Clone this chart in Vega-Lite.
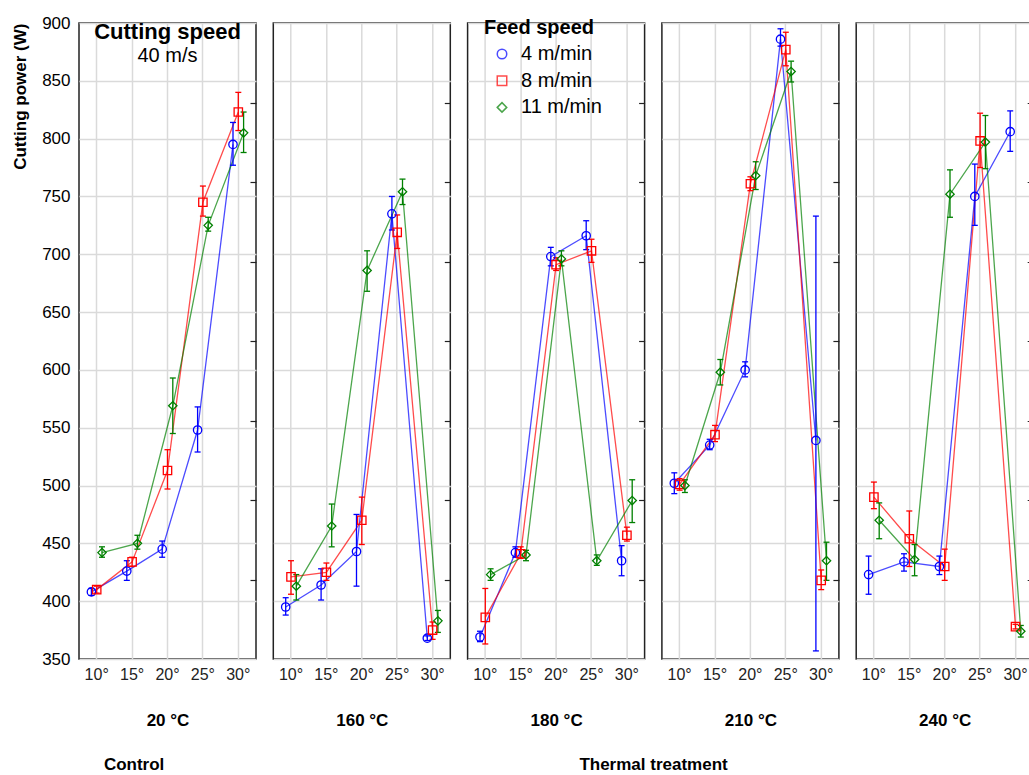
{
  "$schema": "https://vega.github.io/schema/vega-lite/v6.json",
  "padding": {"left": 10, "top": 13, "right": 0, "bottom": 0},
  "config": {
    "font": "Liberation Sans",
    "view": {"stroke": "#222", "strokeWidth": 1.5},
    "legend": {
      "orient": "none", "legendX": 405, "legendY": -5, "padding": 0,
      "titleFontSize": 20, "titleFontWeight": "bold", "titleColor": "#000", "titlePadding": 6,
      "labelFontSize": 20, "labelColor": "#000", "labelOffset": 9,
      "symbolOffset": 8, "symbolSize": 90, "symbolStrokeWidth": 1.5, "rowPadding": 6.7
    }
  },
  "datasets": {
    "d": [
      {"t":"20 °C","a":"10°","s":"4 m/min","v":408,"lo":405,"hi":411},
      {"t":"20 °C","a":"15°","s":"4 m/min","v":426,"lo":418,"hi":435},
      {"t":"20 °C","a":"20°","s":"4 m/min","v":445,"lo":438,"hi":452},
      {"t":"20 °C","a":"25°","s":"4 m/min","v":548,"lo":529,"hi":568},
      {"t":"20 °C","a":"30°","s":"4 m/min","v":795,"lo":777,"hi":814},
      {"t":"20 °C","a":"10°","s":"8 m/min","v":410,"lo":407,"hi":413},
      {"t":"20 °C","a":"15°","s":"8 m/min","v":434,"lo":430,"hi":438},
      {"t":"20 °C","a":"20°","s":"8 m/min","v":513,"lo":497,"hi":531},
      {"t":"20 °C","a":"25°","s":"8 m/min","v":745,"lo":733,"hi":759},
      {"t":"20 °C","a":"30°","s":"8 m/min","v":823,"lo":807,"hi":840},
      {"t":"20 °C","a":"10°","s":"11 m/min","v":442,"lo":438,"hi":447},
      {"t":"20 °C","a":"15°","s":"11 m/min","v":450,"lo":445,"hi":457},
      {"t":"20 °C","a":"20°","s":"11 m/min","v":569,"lo":545,"hi":593},
      {"t":"20 °C","a":"25°","s":"11 m/min","v":725,"lo":720,"hi":732},
      {"t":"20 °C","a":"30°","s":"11 m/min","v":805,"lo":788,"hi":823},

      {"t":"160 °C","a":"10°","s":"4 m/min","v":395,"lo":388,"hi":403},
      {"t":"160 °C","a":"15°","s":"4 m/min","v":414,"lo":401,"hi":428},
      {"t":"160 °C","a":"20°","s":"4 m/min","v":443,"lo":413,"hi":475},
      {"t":"160 °C","a":"25°","s":"4 m/min","v":735,"lo":721,"hi":750},
      {"t":"160 °C","a":"30°","s":"4 m/min","v":368,"lo":366,"hi":370},
      {"t":"160 °C","a":"10°","s":"8 m/min","v":421,"lo":406,"hi":435},
      {"t":"160 °C","a":"15°","s":"8 m/min","v":425,"lo":418,"hi":433},
      {"t":"160 °C","a":"20°","s":"8 m/min","v":470,"lo":449,"hi":490},
      {"t":"160 °C","a":"25°","s":"8 m/min","v":719,"lo":705,"hi":734},
      {"t":"160 °C","a":"30°","s":"8 m/min","v":375,"lo":367,"hi":382},
      {"t":"160 °C","a":"10°","s":"11 m/min","v":413,"lo":401,"hi":423},
      {"t":"160 °C","a":"15°","s":"11 m/min","v":465,"lo":447,"hi":484},
      {"t":"160 °C","a":"20°","s":"11 m/min","v":686,"lo":668,"hi":703},
      {"t":"160 °C","a":"25°","s":"11 m/min","v":754,"lo":743,"hi":765},
      {"t":"160 °C","a":"30°","s":"11 m/min","v":383,"lo":373,"hi":392},

      {"t":"180 °C","a":"10°","s":"4 m/min","v":369,"lo":365,"hi":374},
      {"t":"180 °C","a":"15°","s":"4 m/min","v":442,"lo":438,"hi":447},
      {"t":"180 °C","a":"20°","s":"4 m/min","v":698,"lo":690,"hi":706},
      {"t":"180 °C","a":"25°","s":"4 m/min","v":716,"lo":704,"hi":729},
      {"t":"180 °C","a":"30°","s":"4 m/min","v":435,"lo":422,"hi":448},
      {"t":"180 °C","a":"10°","s":"8 m/min","v":386,"lo":363,"hi":411},
      {"t":"180 °C","a":"15°","s":"8 m/min","v":441,"lo":437,"hi":447},
      {"t":"180 °C","a":"20°","s":"8 m/min","v":691,"lo":686,"hi":697},
      {"t":"180 °C","a":"25°","s":"8 m/min","v":703,"lo":693,"hi":713},
      {"t":"180 °C","a":"30°","s":"8 m/min","v":457,"lo":452,"hi":464},
      {"t":"180 °C","a":"10°","s":"11 m/min","v":423,"lo":418,"hi":428},
      {"t":"180 °C","a":"15°","s":"11 m/min","v":440,"lo":435,"hi":444},
      {"t":"180 °C","a":"20°","s":"11 m/min","v":696,"lo":690,"hi":703},
      {"t":"180 °C","a":"25°","s":"11 m/min","v":435,"lo":431,"hi":440},
      {"t":"180 °C","a":"30°","s":"11 m/min","v":487,"lo":468,"hi":505},

      {"t":"210 °C","a":"10°","s":"4 m/min","v":502,"lo":493,"hi":511},
      {"t":"210 °C","a":"15°","s":"4 m/min","v":535,"lo":531,"hi":540},
      {"t":"210 °C","a":"20°","s":"4 m/min","v":600,"lo":594,"hi":607},
      {"t":"210 °C","a":"25°","s":"4 m/min","v":886,"lo":880,"hi":895},
      {"t":"210 °C","a":"30°","s":"4 m/min","v":539,"lo":357,"hi":733},
      {"t":"210 °C","a":"10°","s":"8 m/min","v":501,"lo":496,"hi":506},
      {"t":"210 °C","a":"15°","s":"8 m/min","v":544,"lo":538,"hi":552},
      {"t":"210 °C","a":"20°","s":"8 m/min","v":761,"lo":755,"hi":767},
      {"t":"210 °C","a":"25°","s":"8 m/min","v":877,"lo":863,"hi":892},
      {"t":"210 °C","a":"30°","s":"8 m/min","v":418,"lo":410,"hi":427},
      {"t":"210 °C","a":"10°","s":"11 m/min","v":500,"lo":494,"hi":505},
      {"t":"210 °C","a":"15°","s":"11 m/min","v":598,"lo":587,"hi":609},
      {"t":"210 °C","a":"20°","s":"11 m/min","v":768,"lo":756,"hi":780},
      {"t":"210 °C","a":"25°","s":"11 m/min","v":858,"lo":849,"hi":867},
      {"t":"210 °C","a":"30°","s":"11 m/min","v":435,"lo":418,"hi":451},

      {"t":"240 °C","a":"10°","s":"4 m/min","v":423,"lo":406,"hi":439},
      {"t":"240 °C","a":"15°","s":"4 m/min","v":434,"lo":426,"hi":441},
      {"t":"240 °C","a":"20°","s":"4 m/min","v":430,"lo":423,"hi":439},
      {"t":"240 °C","a":"25°","s":"4 m/min","v":750,"lo":725,"hi":778},
      {"t":"240 °C","a":"30°","s":"4 m/min","v":806,"lo":789,"hi":824},
      {"t":"240 °C","a":"10°","s":"8 m/min","v":490,"lo":480,"hi":503},
      {"t":"240 °C","a":"15°","s":"8 m/min","v":454,"lo":430,"hi":478},
      {"t":"240 °C","a":"20°","s":"8 m/min","v":430,"lo":418,"hi":445},
      {"t":"240 °C","a":"25°","s":"8 m/min","v":798,"lo":775,"hi":822},
      {"t":"240 °C","a":"30°","s":"8 m/min","v":378,"lo":376,"hi":380},
      {"t":"240 °C","a":"10°","s":"11 m/min","v":470,"lo":454,"hi":485},
      {"t":"240 °C","a":"15°","s":"11 m/min","v":436,"lo":422,"hi":449},
      {"t":"240 °C","a":"20°","s":"11 m/min","v":752,"lo":732,"hi":773},
      {"t":"240 °C","a":"25°","s":"11 m/min","v":797,"lo":774,"hi":820},
      {"t":"240 °C","a":"30°","s":"11 m/min","v":374,"lo":369,"hi":379}
    ]
  },
  "data": {"name": "d"},
  "spacing": 14.3,
  "hconcat": [
    {
      "title": {"text": "Control", "orient": "bottom", "anchor": "middle", "fontSize": 17, "fontWeight": "bold", "color": "#000", "offset": 28},
      "hconcat": [
        {
          "width": 177, "height": 636,
          "title": {"text": "Cutting speed", "subtitle": "40 m/s", "anchor": "middle", "offset": -53, "fontSize": 22, "fontWeight": "bold", "color": "#000", "subtitleFontSize": 20, "subtitleColor": "#000", "subtitlePadding": 2},
          "transform": [{"filter": "datum.t == '20 °C'"}],
          "resolve": {"axis": {"y": "independent"}},
          "encoding": {
            "x": {"field": "a", "type": "ordinal", "scale": {"type": "band", "paddingInner": 0, "paddingOuter": 0, "domain": ["10°","15°","20°","25°","30°"]},
              "axis": {"title": "20 °C", "bandPosition": 0.5, "grid": true, "gridColor": "#dadada", "gridWidth": 1.5, "ticks": false, "domain": false, "labelAngle": 0, "labelFontSize": 16, "labelColor": "#222", "labelPadding": 7, "titleFontSize": 17, "titleFontWeight": "bold", "titleColor": "#000", "titlePadding": 30}},
            "xOffset": {"field": "s", "type": "nominal", "scale": {"type": "point", "domain": ["4 m/min","8 m/min","11 m/min"], "range": [12.4, 23], "padding": 0}},
            "color": {"field": "s", "type": "nominal", "title": "Feed speed", "scale": {"domain": ["4 m/min","8 m/min","11 m/min"], "range": ["#0000ff","#ff0000","#008000"]}}
          },
          "layer": [
            {"mark": {"type": "line", "strokeWidth": 1.3, "opacity": 0.7},
             "encoding": {"y": {"field": "v", "type": "quantitative", "scale": {"domain": [350, 900], "zero": false, "nice": false},
               "axis": {"title": "Cutting power (W)", "orient": "left", "values": [350,400,450,500,550,600,650,700,750,800,850,900], "grid": true, "gridColor": "#dadada", "gridWidth": 1.5, "ticks": false, "domain": false, "labelFontSize": 17, "labelColor": "#000", "labelPadding": 9, "titleFontSize": 17, "titleFontWeight": "bold", "titleColor": "#000", "titleAnchor": "end", "titlePadding": 12}}}},
            {"mark": {"type": "rule", "strokeWidth": 1.3},
             "encoding": {"y": {"field": "lo", "type": "quantitative", "axis": null}, "y2": {"field": "hi"}}},
            {"mark": {"type": "point", "shape": "M-1,0L1,0", "filled": false, "size": 36, "strokeWidth": 1.3, "opacity": 1},
             "encoding": {"y": {"field": "lo", "type": "quantitative", "axis": null}}},
            {"mark": {"type": "point", "shape": "M-1,0L1,0", "filled": false, "size": 36, "strokeWidth": 1.3, "opacity": 1},
             "encoding": {"y": {"field": "hi", "type": "quantitative",
               "axis": {"orient": "right", "title": null, "values": [418.75,487.5,556.25,625,693.75,762.5,831.25], "labels": false, "grid": false, "domain": false, "tickSize": -6, "tickColor": "#222", "tickWidth": 1.2, "minExtent": 0}}}},
            {"mark": {"type": "point", "filled": false, "size": 70, "strokeWidth": 1.3, "opacity": 1},
             "encoding": {"y": {"field": "v", "type": "quantitative", "axis": null},
               "shape": {"field": "s", "type": "nominal", "title": "Feed speed", "scale": {"domain": ["4 m/min","8 m/min","11 m/min"], "range": ["circle","square","diamond"]}}}}
          ]
        }
      ]
    },
    {
      "title": {"text": "Thermal  treatment", "orient": "bottom", "anchor": "middle", "fontSize": 17, "fontWeight": "bold", "color": "#000", "offset": 28},
      "spacing": 14.3,
      "hconcat": [
        {
          "width": 177, "height": 636,
          "transform": [{"filter": "datum.t == '160 °C'"}],
          "resolve": {"axis": {"y": "independent"}},
          "encoding": {
            "x": {"field": "a", "type": "ordinal", "scale": {"type": "band", "paddingInner": 0, "paddingOuter": 0, "domain": ["10°","15°","20°","25°","30°"]},
              "axis": {"title": "160 °C", "bandPosition": 0.5, "grid": true, "gridColor": "#dadada", "gridWidth": 1.5, "ticks": false, "domain": false, "labelAngle": 0, "labelFontSize": 16, "labelColor": "#222", "labelPadding": 7, "titleFontSize": 17, "titleFontWeight": "bold", "titleColor": "#000", "titlePadding": 30}},
            "xOffset": {"field": "s", "type": "nominal", "scale": {"type": "point", "domain": ["4 m/min","8 m/min","11 m/min"], "range": [12.4, 23], "padding": 0}},
            "color": {"field": "s", "type": "nominal", "title": "Feed speed", "scale": {"domain": ["4 m/min","8 m/min","11 m/min"], "range": ["#0000ff","#ff0000","#008000"]}}
          },
          "layer": [
            {"mark": {"type": "line", "strokeWidth": 1.3, "opacity": 0.7},
             "encoding": {"y": {"field": "v", "type": "quantitative", "scale": {"domain": [350, 900], "zero": false, "nice": false},
               "axis": {"title": null, "orient": "left", "values": [350,400,450,500,550,600,650,700,750,800,850,900], "grid": true, "gridColor": "#dadada", "gridWidth": 1.5, "labels": false, "ticks": false, "domain": false, "minExtent": 0}}}},
            {"mark": {"type": "rule", "strokeWidth": 1.3},
             "encoding": {"y": {"field": "lo", "type": "quantitative", "axis": null}, "y2": {"field": "hi"}}},
            {"mark": {"type": "point", "shape": "M-1,0L1,0", "filled": false, "size": 36, "strokeWidth": 1.3, "opacity": 1},
             "encoding": {"y": {"field": "lo", "type": "quantitative", "axis": null}}},
            {"mark": {"type": "point", "shape": "M-1,0L1,0", "filled": false, "size": 36, "strokeWidth": 1.3, "opacity": 1},
             "encoding": {"y": {"field": "hi", "type": "quantitative",
               "axis": {"orient": "right", "title": null, "values": [418.75,487.5,556.25,625,693.75,762.5,831.25], "labels": false, "grid": false, "domain": false, "tickSize": -6, "tickColor": "#222", "tickWidth": 1.2, "minExtent": 0}}}},
            {"mark": {"type": "point", "filled": false, "size": 70, "strokeWidth": 1.3, "opacity": 1},
             "encoding": {"y": {"field": "v", "type": "quantitative", "axis": null},
               "shape": {"field": "s", "type": "nominal", "title": "Feed speed", "scale": {"domain": ["4 m/min","8 m/min","11 m/min"], "range": ["circle","square","diamond"]}}}}
          ]
        },
        {
          "width": 177, "height": 636,
          "transform": [{"filter": "datum.t == '180 °C'"}],
          "resolve": {"axis": {"y": "independent"}},
          "encoding": {
            "x": {"field": "a", "type": "ordinal", "scale": {"type": "band", "paddingInner": 0, "paddingOuter": 0, "domain": ["10°","15°","20°","25°","30°"]},
              "axis": {"title": "180 °C", "bandPosition": 0.5, "grid": true, "gridColor": "#dadada", "gridWidth": 1.5, "ticks": false, "domain": false, "labelAngle": 0, "labelFontSize": 16, "labelColor": "#222", "labelPadding": 7, "titleFontSize": 17, "titleFontWeight": "bold", "titleColor": "#000", "titlePadding": 30}},
            "xOffset": {"field": "s", "type": "nominal", "scale": {"type": "point", "domain": ["4 m/min","8 m/min","11 m/min"], "range": [12.4, 23], "padding": 0}},
            "color": {"field": "s", "type": "nominal", "title": "Feed speed", "scale": {"domain": ["4 m/min","8 m/min","11 m/min"], "range": ["#0000ff","#ff0000","#008000"]}}
          },
          "layer": [
            {"mark": {"type": "line", "strokeWidth": 1.3, "opacity": 0.7},
             "encoding": {"y": {"field": "v", "type": "quantitative", "scale": {"domain": [350, 900], "zero": false, "nice": false},
               "axis": {"title": null, "orient": "left", "values": [350,400,450,500,550,600,650,700,750,800,850,900], "grid": true, "gridColor": "#dadada", "gridWidth": 1.5, "labels": false, "ticks": false, "domain": false, "minExtent": 0}}}},
            {"mark": {"type": "rule", "strokeWidth": 1.3},
             "encoding": {"y": {"field": "lo", "type": "quantitative", "axis": null}, "y2": {"field": "hi"}}},
            {"mark": {"type": "point", "shape": "M-1,0L1,0", "filled": false, "size": 36, "strokeWidth": 1.3, "opacity": 1},
             "encoding": {"y": {"field": "lo", "type": "quantitative", "axis": null}}},
            {"mark": {"type": "point", "shape": "M-1,0L1,0", "filled": false, "size": 36, "strokeWidth": 1.3, "opacity": 1},
             "encoding": {"y": {"field": "hi", "type": "quantitative",
               "axis": {"orient": "right", "title": null, "values": [418.75,487.5,556.25,625,693.75,762.5,831.25], "labels": false, "grid": false, "domain": false, "tickSize": -6, "tickColor": "#222", "tickWidth": 1.2, "minExtent": 0}}}},
            {"mark": {"type": "point", "filled": false, "size": 70, "strokeWidth": 1.3, "opacity": 1},
             "encoding": {"y": {"field": "v", "type": "quantitative", "axis": null},
               "shape": {"field": "s", "type": "nominal", "title": "Feed speed", "scale": {"domain": ["4 m/min","8 m/min","11 m/min"], "range": ["circle","square","diamond"]}}}}
          ]
        },
        {
          "width": 177, "height": 636,
          "transform": [{"filter": "datum.t == '210 °C'"}],
          "resolve": {"axis": {"y": "independent"}},
          "encoding": {
            "x": {"field": "a", "type": "ordinal", "scale": {"type": "band", "paddingInner": 0, "paddingOuter": 0, "domain": ["10°","15°","20°","25°","30°"]},
              "axis": {"title": "210 °C", "bandPosition": 0.5, "grid": true, "gridColor": "#dadada", "gridWidth": 1.5, "ticks": false, "domain": false, "labelAngle": 0, "labelFontSize": 16, "labelColor": "#222", "labelPadding": 7, "titleFontSize": 17, "titleFontWeight": "bold", "titleColor": "#000", "titlePadding": 30}},
            "xOffset": {"field": "s", "type": "nominal", "scale": {"type": "point", "domain": ["4 m/min","8 m/min","11 m/min"], "range": [12.4, 23], "padding": 0}},
            "color": {"field": "s", "type": "nominal", "title": "Feed speed", "scale": {"domain": ["4 m/min","8 m/min","11 m/min"], "range": ["#0000ff","#ff0000","#008000"]}}
          },
          "layer": [
            {"mark": {"type": "line", "strokeWidth": 1.3, "opacity": 0.7},
             "encoding": {"y": {"field": "v", "type": "quantitative", "scale": {"domain": [350, 900], "zero": false, "nice": false},
               "axis": {"title": null, "orient": "left", "values": [350,400,450,500,550,600,650,700,750,800,850,900], "grid": true, "gridColor": "#dadada", "gridWidth": 1.5, "labels": false, "ticks": false, "domain": false, "minExtent": 0}}}},
            {"mark": {"type": "rule", "strokeWidth": 1.3},
             "encoding": {"y": {"field": "lo", "type": "quantitative", "axis": null}, "y2": {"field": "hi"}}},
            {"mark": {"type": "point", "shape": "M-1,0L1,0", "filled": false, "size": 36, "strokeWidth": 1.3, "opacity": 1},
             "encoding": {"y": {"field": "lo", "type": "quantitative", "axis": null}}},
            {"mark": {"type": "point", "shape": "M-1,0L1,0", "filled": false, "size": 36, "strokeWidth": 1.3, "opacity": 1},
             "encoding": {"y": {"field": "hi", "type": "quantitative",
               "axis": {"orient": "right", "title": null, "values": [418.75,487.5,556.25,625,693.75,762.5,831.25], "labels": false, "grid": false, "domain": false, "tickSize": -6, "tickColor": "#222", "tickWidth": 1.2, "minExtent": 0}}}},
            {"mark": {"type": "point", "filled": false, "size": 70, "strokeWidth": 1.3, "opacity": 1},
             "encoding": {"y": {"field": "v", "type": "quantitative", "axis": null},
               "shape": {"field": "s", "type": "nominal", "title": "Feed speed", "scale": {"domain": ["4 m/min","8 m/min","11 m/min"], "range": ["circle","square","diamond"]}}}}
          ]
        },
        {
          "width": 177, "height": 636,
          "transform": [{"filter": "datum.t == '240 °C'"}],
          "resolve": {"axis": {"y": "independent"}},
          "encoding": {
            "x": {"field": "a", "type": "ordinal", "scale": {"type": "band", "paddingInner": 0, "paddingOuter": 0, "domain": ["10°","15°","20°","25°","30°"]},
              "axis": {"title": "240 °C", "bandPosition": 0.5, "grid": true, "gridColor": "#dadada", "gridWidth": 1.5, "ticks": false, "domain": false, "labelAngle": 0, "labelFontSize": 16, "labelColor": "#222", "labelPadding": 7, "titleFontSize": 17, "titleFontWeight": "bold", "titleColor": "#000", "titlePadding": 30}},
            "xOffset": {"field": "s", "type": "nominal", "scale": {"type": "point", "domain": ["4 m/min","8 m/min","11 m/min"], "range": [12.4, 23], "padding": 0}},
            "color": {"field": "s", "type": "nominal", "title": "Feed speed", "scale": {"domain": ["4 m/min","8 m/min","11 m/min"], "range": ["#0000ff","#ff0000","#008000"]}}
          },
          "layer": [
            {"mark": {"type": "line", "strokeWidth": 1.3, "opacity": 0.7},
             "encoding": {"y": {"field": "v", "type": "quantitative", "scale": {"domain": [350, 900], "zero": false, "nice": false},
               "axis": {"title": null, "orient": "left", "values": [350,400,450,500,550,600,650,700,750,800,850,900], "grid": true, "gridColor": "#dadada", "gridWidth": 1.5, "labels": false, "ticks": false, "domain": false, "minExtent": 0}}}},
            {"mark": {"type": "rule", "strokeWidth": 1.3},
             "encoding": {"y": {"field": "lo", "type": "quantitative", "axis": null}, "y2": {"field": "hi"}}},
            {"mark": {"type": "point", "shape": "M-1,0L1,0", "filled": false, "size": 36, "strokeWidth": 1.3, "opacity": 1},
             "encoding": {"y": {"field": "lo", "type": "quantitative", "axis": null}}},
            {"mark": {"type": "point", "shape": "M-1,0L1,0", "filled": false, "size": 36, "strokeWidth": 1.3, "opacity": 1},
             "encoding": {"y": {"field": "hi", "type": "quantitative",
               "axis": {"orient": "right", "title": null, "values": [418.75,487.5,556.25,625,693.75,762.5,831.25], "labels": false, "grid": false, "domain": false, "tickSize": -6, "tickColor": "#222", "tickWidth": 1.2, "minExtent": 0}}}},
            {"mark": {"type": "point", "filled": false, "size": 70, "strokeWidth": 1.3, "opacity": 1},
             "encoding": {"y": {"field": "v", "type": "quantitative", "axis": null},
               "shape": {"field": "s", "type": "nominal", "title": "Feed speed", "scale": {"domain": ["4 m/min","8 m/min","11 m/min"], "range": ["circle","square","diamond"]}}}}
          ]
        }
      ]
    }
  ]
}
